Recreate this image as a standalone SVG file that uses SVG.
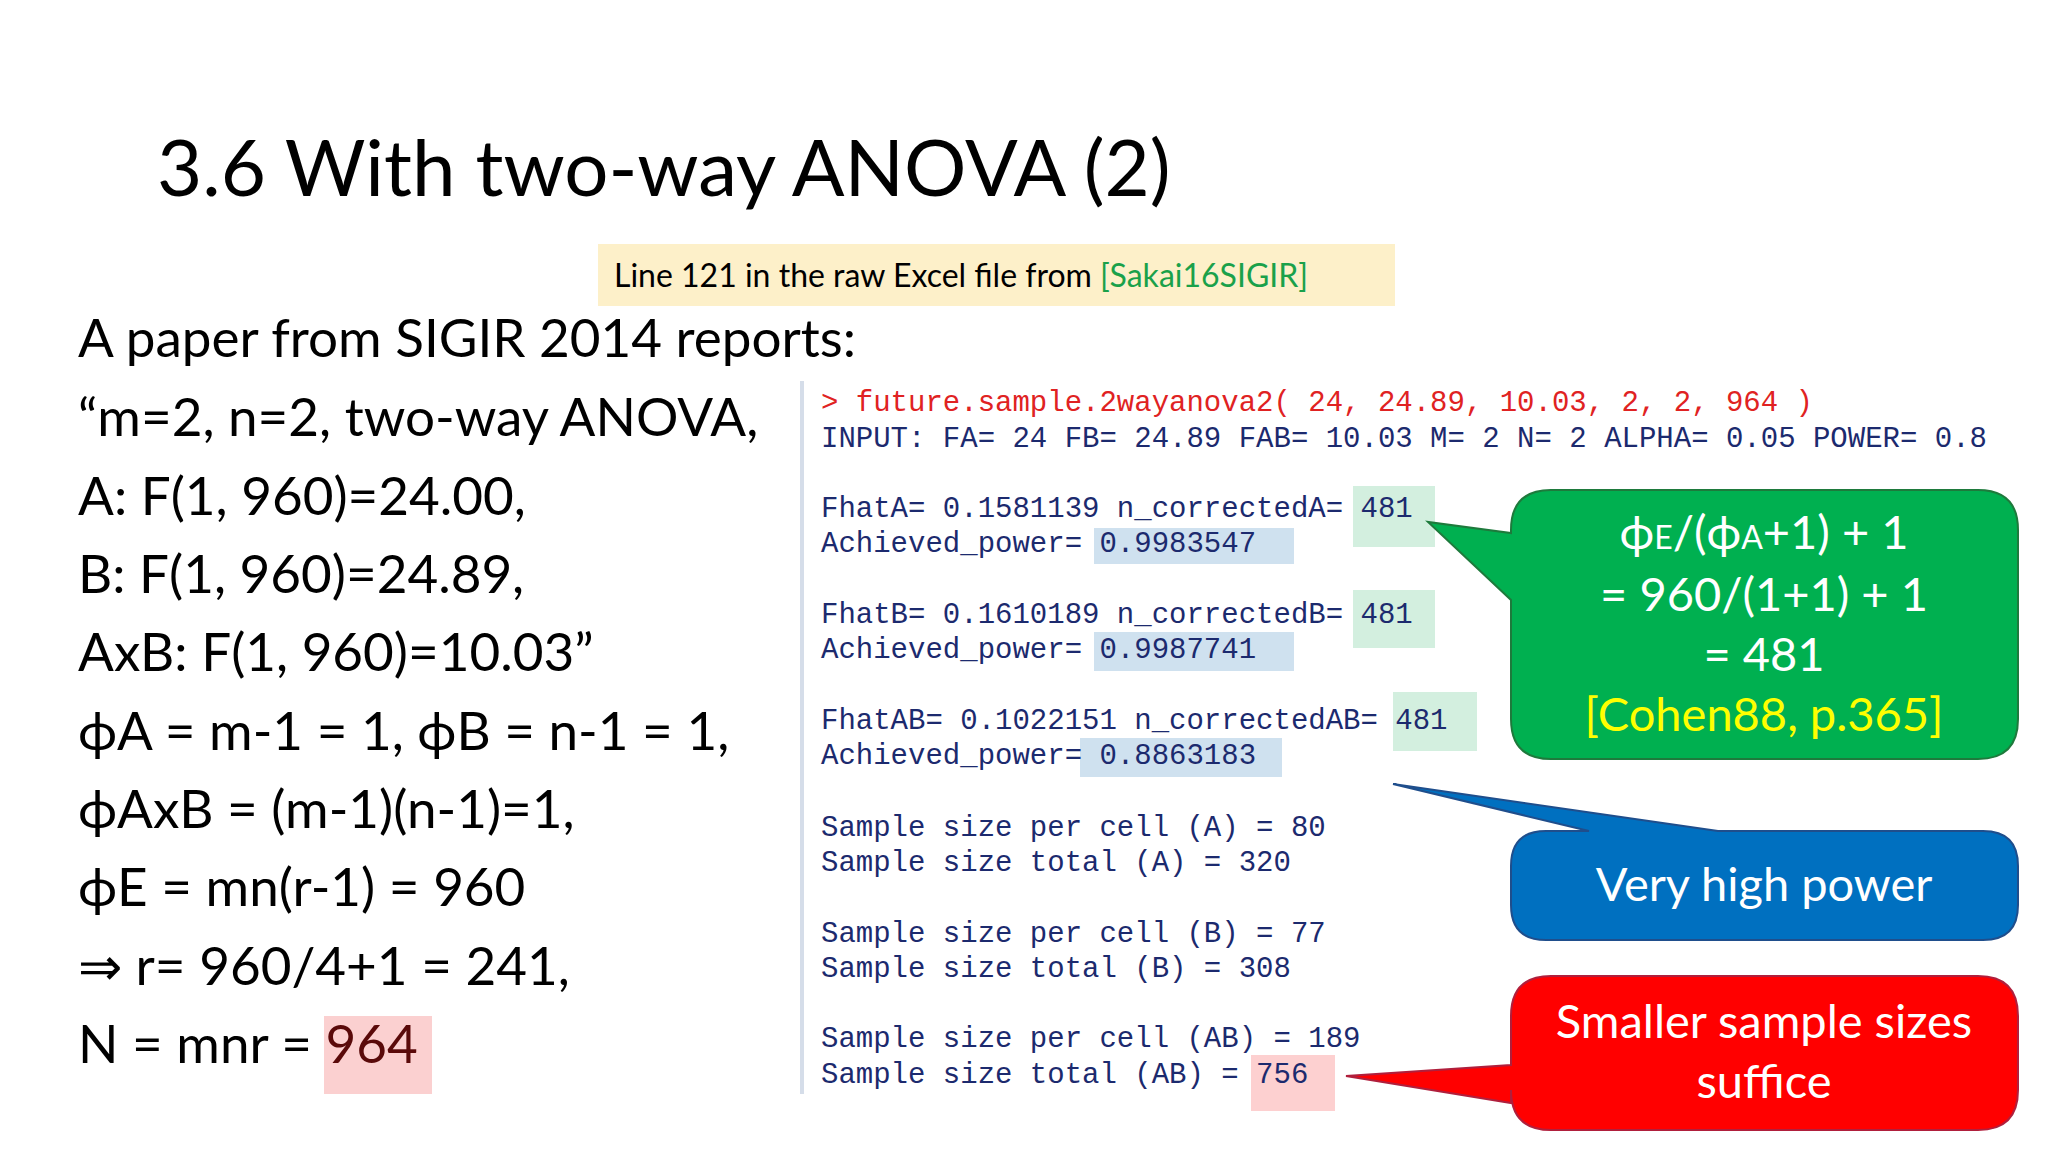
<svg xmlns="http://www.w3.org/2000/svg" width="2048" height="1152" viewBox="0 0 2048 1152">
<style>
.s{font-family:"Lato","Liberation Sans",sans-serif;fill:#000}
.l{font-size:53px}
.m{font-family:"Liberation Mono","DejaVu Sans Mono",monospace;font-size:29px;fill:#1c2a6e}
.c{font-family:"Lato","Liberation Sans",sans-serif;font-size:47px;fill:#fff;text-anchor:middle}
.g{fill:#d3efdf}.b{fill:#cfe1ef}
</style>
<rect width="2048" height="1152" fill="#fff"/>
<g id="title"><text class="s" x="157" y="196" font-size="78" fill="#222">3.6 With two-way ANOVA (2)</text></g>
<g id="source"><rect x="598" y="244" width="797" height="62" fill="#fdf0c9"/>
<text class="s" x="614" y="287" font-size="32">Line 121 in the raw Excel file from <tspan fill="#1aa14a">[Sakai16SIGIR]</tspan></text></g>
<g id="left">
<rect x="324" y="1016" width="108" height="78" fill="#fbd0d0"/>
<text class="s l" x="78" y="357">A paper from SIGIR 2014 reports:</text>
<text class="s l" x="78" y="436">“m=2, n=2, two-way ANOVA,</text>
<text class="s l" x="78" y="515">A: F(1, 960)=24.00,</text>
<text class="s l" x="78" y="593">B: F(1, 960)=24.89,</text>
<text class="s l" x="78" y="671">AxB: F(1, 960)=10.03”</text>
<text class="s l" x="78" y="750">ϕA = m-1 = 1, ϕB = n-1 = 1,</text>
<text class="s l" x="78" y="828">ϕAxB = (m-1)(n-1)=1,</text>
<text class="s l" x="78" y="906">ϕE = mn(r-1) = 960</text>
<text class="s l" x="78" y="985">⇒ r= 960/4+1 = 241,</text>
<text class="s l" x="78" y="1063">N = mnr = <tspan fill="#5a0a0a">964</tspan></text>
</g>
<g id="console">
<rect x="800" y="381" width="4" height="713" fill="#d5dde9"/>
<rect class="g" x="1353" y="486" width="82" height="61"/>
<rect class="b" x="1094" y="528" width="200" height="36"/>
<rect class="g" x="1353" y="590" width="82" height="58"/>
<rect class="b" x="1094" y="632" width="200" height="39"/>
<rect class="g" x="1393" y="692" width="84" height="59"/>
<rect class="b" x="1080" y="738" width="202" height="39"/>
<rect x="1251" y="1055" width="84" height="56" fill="#fdd0d0"/>
<text class="m" x="821" y="411" fill="#e02222" style="fill:#e02222">&gt; future.sample.2wayanova2( 24, 24.89, 10.03, 2, 2, 964 )</text>
<text class="m" x="821" y="447">INPUT: FA= 24 FB= 24.89 FAB= 10.03 M= 2 N= 2 ALPHA= 0.05 POWER= 0.8</text>
<text class="m" x="821" y="517">FhatA= 0.1581139 n_correctedA= 481</text>
<text class="m" x="821" y="552">Achieved_power= 0.9983547</text>
<text class="m" x="821" y="623">FhatB= 0.1610189 n_correctedB= 481</text>
<text class="m" x="821" y="658">Achieved_power= 0.9987741</text>
<text class="m" x="821" y="729">FhatAB= 0.1022151 n_correctedAB= 481</text>
<text class="m" x="821" y="764">Achieved_power= 0.8863183</text>
<text class="m" x="821" y="836">Sample size per cell (A) = 80</text>
<text class="m" x="821" y="871">Sample size total (A) = 320</text>
<text class="m" x="821" y="942">Sample size per cell (B) = 77</text>
<text class="m" x="821" y="977">Sample size total (B) = 308</text>
<text class="m" x="821" y="1047">Sample size per cell (AB) = 189</text>
<text class="m" x="821" y="1083">Sample size total (AB) = 756</text>
</g>
<g id="callout-green">
<path d="M1551,490 H1978 Q2018,490 2018,530 V719 Q2018,759 1978,759 H1551 Q1511,759 1511,719 V600 L1428,522 L1511,533 V530 Q1511,490 1551,490 Z" fill="#00b050" stroke="#1e7a3c" stroke-width="2"/>
<text class="c" x="1764" y="549">ϕ<tspan font-size="32">E</tspan>/(ϕ<tspan font-size="32">A</tspan>+1) + 1</text>
<text class="c" x="1764" y="611">= 960/(1+1) + 1</text>
<text class="c" x="1764" y="671">= 481</text>
<text class="c" x="1764" y="731" style="fill:#ffff00">[Cohen88, p.365]</text>
</g>
<g id="callout-blue">
<path d="M1546,831 H1589 L1393,784 L1718,831 H1983 Q2018,831 2018,866 V905 Q2018,940 1983,940 H1546 Q1511,940 1511,905 V866 Q1511,831 1546,831 Z" fill="#0070c0" stroke="#1f4e8c" stroke-width="2"/>
<text class="c" x="1764" y="901">Very high power</text>
</g>
<g id="callout-red">
<path d="M1551,976 H1978 Q2018,976 2018,1016 V1090 Q2018,1130 1978,1130 H1551 Q1511,1130 1511,1090 V1103 L1346,1076 L1511,1065 V1016 Q1511,976 1551,976 Z" fill="#ff0000" stroke="#b01f3c" stroke-width="2"/>
<text class="c" x="1764" y="1038">Smaller sample sizes</text>
<text class="c" x="1764" y="1098">suffice</text>
</g>
</svg>
